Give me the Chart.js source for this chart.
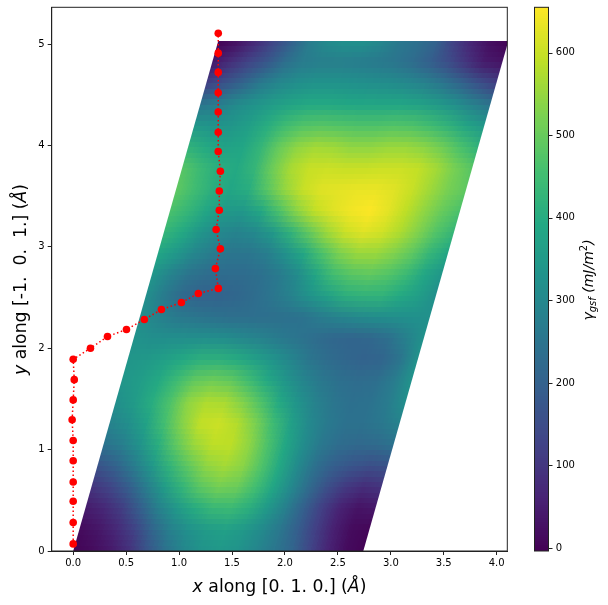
<!DOCTYPE html>
<html><head><meta charset="utf-8">
<style>html,body{margin:0;padding:0;background:#fff}canvas{display:block}</style>
<script src="https://cdn.jsdelivr.net/npm/chart.js@4"></script>
</head><body><canvas id="c" width="608" height="605"></canvas>
<script>
// Lattice vectors of the plotted cell (Angstrom)
const cellA = [2.74, 0];
const cellB = [1.37, 5.03];
// Energy samples: rows bottom to top along cellB, columns along cellA
const gammaGrid = [
[0,15,40,85,165,240,295,330,345,335,300,260,215,135,65,18,0],
[15,35,70,125,210,280,325,355,370,350,310,260,195,120,55,15,5],
[45,70,115,195,280,345,400,435,440,410,350,280,200,120,60,30,40],
[95,130,190,270,355,425,485,515,505,455,385,305,225,155,105,80,95],
[165,205,270,345,425,490,545,565,540,475,395,310,240,195,170,155,165],
[245,275,330,405,490,555,590,590,545,470,390,315,260,230,220,225,245],
[290,320,375,455,535,595,605,580,525,445,370,305,265,245,245,260,290],
[320,355,405,470,545,575,570,530,470,395,335,285,255,240,245,270,320],
[340,360,395,445,495,510,495,450,395,340,295,260,240,230,235,270,335],
[340,350,370,395,415,415,400,370,335,295,255,230,215,205,210,250,335],
[330,320,320,320,320,315,300,285,265,250,230,215,210,215,235,280,330],
[320,290,265,255,245,235,235,235,240,245,270,290,305,315,320,325,325],
[320,265,220,205,205,215,230,255,285,330,370,410,420,420,395,365,320],
[340,290,250,230,228,228,240,265,310,380,450,480,490,475,440,385,340],
[385,345,300,270,255,255,275,325,390,465,525,555,555,530,490,430,385],
[430,395,340,305,290,305,350,420,495,560,605,625,610,575,530,475,430],
[465,430,385,350,345,390,465,540,595,625,645,655,630,590,545,500,465],
[490,450,410,385,405,480,550,600,625,630,635,635,625,600,560,520,490],
[480,440,405,395,430,510,570,600,605,600,600,605,605,595,565,520,480],
[420,395,375,385,430,500,545,565,560,545,545,555,555,540,510,465,420],
[345,335,340,365,405,450,475,480,475,470,470,475,470,450,420,380,345],
[255,275,310,335,360,380,395,395,390,385,385,385,375,355,325,285,250],
[120,165,210,265,300,320,330,330,325,320,315,305,285,255,210,160,115],
[40,85,130,175,235,270,278,278,272,265,255,230,195,150,95,45,30],
[0,25,70,130,195,270,310,325,325,300,260,240,205,120,60,20,0]
];
// Red path points
const pathX = [0,0,0,0,0,0,-0.01,0,0.01,0,0.163,0.324,0.503,0.672,0.833,1.022,1.182,1.371,1.343,1.39,1.35,1.38,1.38,1.39,1.37,1.37,1.37,1.37,1.37,1.37,1.37];
const pathY = [0.07,0.28,0.49,0.68,0.89,1.09,1.295,1.49,1.69,1.89,2.0,2.115,2.185,2.283,2.381,2.45,2.54,2.59,2.785,2.98,3.17,3.36,3.55,3.745,3.94,4.13,4.33,4.52,4.72,4.91,5.105];
const xTicks = [0,0.5,1,1.5,2,2.5,3,3.5,4];
const yTicks = [0,1,2,3,4,5];
const barTicks = [0,100,200,300,400,500,600];
const barRange = [-3.6, 655];
const viridisStops = ['#440154','#482475','#414487','#355f8d','#2a788e','#21918c','#22a884','#44bf70','#7ad151','#bddf26','#fde725'];

const FONT = '"DejaVu Sans"';
function hex(c){return [1,3,5].map(i=>parseInt(c.substr(i,2),16));}
function colorOf(v){
  let t=(v-barRange[0])/(barRange[1]-barRange[0]);
  t=Math.min(1,Math.max(0,t))*(viridisStops.length-1);
  const k=Math.min(viridisStops.length-2,Math.floor(t)),f=t-k;
  const a=hex(viridisStops[k]),b=hex(viridisStops[k+1]);
  return a.map((q,i)=>Math.round(q+(b[i]-q)*f));
}
function drawSegments(ctx,segs,cx,cy,rot){
  ctx.save();ctx.translate(cx,cy);ctx.rotate(rot);
  ctx.textBaseline='alphabetic';ctx.textAlign='left';ctx.fillStyle='#000';
  let w=0;segs.forEach(s=>{ctx.font=s.font;s.w=ctx.measureText(s.t).width;w+=s.w;});
  let x=-w/2;segs.forEach(s=>{ctx.font=s.font;ctx.fillText(s.t,x,s.dy||0);x+=s.w;});
  ctx.restore();
}
const heatPlugin={id:'heat',
  beforeDatasetsDraw(chart){
    const {ctx,chartArea:ca,scales:{x,y}}=chart;
    const nj=gammaGrid.length,ni=gammaGrid[0].length;
    const A=document.createElement('canvas');A.width=ni;A.height=nj;
    const actx=A.getContext('2d');const img=actx.createImageData(ni,nj);
    for(let j=0;j<nj;j++)for(let i=0;i<ni;i++){
      const c=colorOf(gammaGrid[nj-1-j][i]),p=(j*ni+i)*4;
      img.data[p]=c[0];img.data[p+1]=c[1];img.data[p+2]=c[2];img.data[p+3]=255;
    }
    actx.putImageData(img,0,0);
    const BW=192,BH=96;
    const B=document.createElement('canvas');B.width=BW;B.height=BH;
    const bctx=B.getContext('2d');bctx.imageSmoothingEnabled=true;
    const cw=BW/(ni-1),ch=BH/(nj-1);
    bctx.drawImage(A,0,0,ni,nj,-cw/2,-ch/2,BW+cw,BH+ch);
    const P=(u,v)=>[x.getPixelForValue(u*cellA[0]+v*cellB[0]),y.getPixelForValue(u*cellA[1]+v*cellB[1])];
    const tl=P(0,1),tr=P(1,1),bl=P(0,0);
    ctx.save();
    ctx.beginPath();ctx.rect(ca.left,ca.top,ca.right-ca.left,ca.bottom-ca.top);ctx.clip();
    ctx.imageSmoothingEnabled=false;
    ctx.transform((tr[0]-tl[0])/BW,(tr[1]-tl[1])/BW,(bl[0]-tl[0])/BH,(bl[1]-tl[1])/BH,tl[0],tl[1]);
    ctx.drawImage(B,0,0);
    ctx.restore();
  },
  afterDraw(chart){
    const {ctx,chartArea:ca,scales:{bar}}=chart;
    const L=534.5,R=548.5;
    ctx.save();
    const levels=256,span=barRange[1]-barRange[0];
    for(let k=0;k<levels;k++){
      const v0=barRange[0]+span*k/levels,v1=barRange[0]+span*(k+1)/levels;
      const c=colorOf((v0+v1)/2);
      const y0=Math.floor(bar.getPixelForValue(v1)),y1=Math.ceil(bar.getPixelForValue(v0));
      ctx.fillStyle=`rgb(${c[0]},${c[1]},${c[2]})`;
      ctx.fillRect(L,y0,R-L,y1-y0);
    }
    ctx.restore();
    ctx.save();
    ctx.fillStyle='#fff';ctx.fillRect(L-1,ca.bottom+0.5,R-L+2,4);
    ctx.strokeStyle='#222';ctx.lineWidth=1;
    ctx.strokeRect(L,ca.top,R-L,ca.bottom-ca.top);
    ctx.strokeRect(ca.left,ca.top,ca.right-ca.left,ca.bottom-ca.top);
    barTicks.forEach(t=>{const p=Math.round(bar.getPixelForValue(t))+0.5;
      ctx.beginPath();ctx.moveTo(R,p);ctx.lineTo(R+4,p);ctx.stroke();});
    ctx.restore();
    const r18=`17.3px ${FONT}`,i18=`italic 17.3px ${FONT}`;
    const i14=`italic 14px ${FONT}`,i10=`italic 10px ${FONT}`;
    drawSegments(ctx,[{t:'x',font:i18},{t:' along [0. 1. 0.] (',font:r18},{t:'Å',font:i18},{t:')',font:r18}],279.5,592,0);
    drawSegments(ctx,[{t:'y',font:i18},{t:' along [-1.  0.  1.] (',font:r18},{t:'Å',font:i18},{t:')',font:r18}],26,279.5,-Math.PI/2);
    drawSegments(ctx,[{t:'γ',font:i14},{t:'gsf',font:i10,dy:3},{t:' (mJ/m',font:i14},{t:'2',font:`10px ${FONT}`,dy:-6},{t:')',font:i14}],593,280,-Math.PI/2);
  }
};
const tickFont={family:FONT,size:10};
const noPad=s=>{s.paddingTop=0;s.paddingBottom=0;s.paddingLeft=0;s.paddingRight=0;};
new Chart(document.getElementById('c'),{
  type:'scatter',
  data:{datasets:[{
    data:pathX.map((v,i)=>({x:v,y:pathY[i]})),
    showLine:true,borderColor:'#ff0000',borderWidth:1.5,borderDash:[1.5,2.5],
    backgroundColor:'#ff0000',pointBackgroundColor:'#ff0000',pointBorderWidth:0,pointRadius:3.8,pointHoverRadius:3.8,
    clip:false,tension:0
  }]},
  plugins:[heatPlugin],
  options:{
    responsive:false,animation:false,devicePixelRatio:1,
    events:[],
    layout:{padding:{left:21.7,right:0,top:7.3,bottom:34}},
    plugins:{legend:{display:false},tooltip:{enabled:false},title:{display:false}},
    scales:{
      x:{type:'linear',min:-0.203,max:4.1,
        afterFit(s){s.height=20;noPad(s);},
        afterBuildTicks(s){s.ticks=xTicks.map(v=>({value:v}));},
        ticks:{autoSkip:false,maxRotation:0,font:tickFont,color:'#000',padding:2,callback:v=>v.toFixed(1)},
        grid:{drawOnChartArea:false,color:'#222',tickLength:4,tickColor:'#222'},
        border:{color:'#222'}},
      y:{type:'linear',min:0,max:5.362,
        afterFit(s){s.width=30;noPad(s);},
        afterBuildTicks(s){s.ticks=yTicks.map(v=>({value:v}));},
        ticks:{autoSkip:false,font:tickFont,color:'#000',padding:3,callback:v=>String(v)},
        grid:{drawOnChartArea:false,color:'#222',tickLength:4,tickColor:'#222'},
        border:{color:'#222'}},
      bar:{type:'linear',axis:'y',position:'right',min:barRange[0],max:barRange[1],
        afterFit(s){s.width=100.7;noPad(s);},
        afterBuildTicks(s){s.ticks=barTicks.map(v=>({value:v}));},
        ticks:{font:tickFont,color:'#000',padding:48.5,callback:v=>String(v)},
        grid:{display:false,drawTicks:false},
        border:{display:false}}
    }
  }
});
</script></body></html>
